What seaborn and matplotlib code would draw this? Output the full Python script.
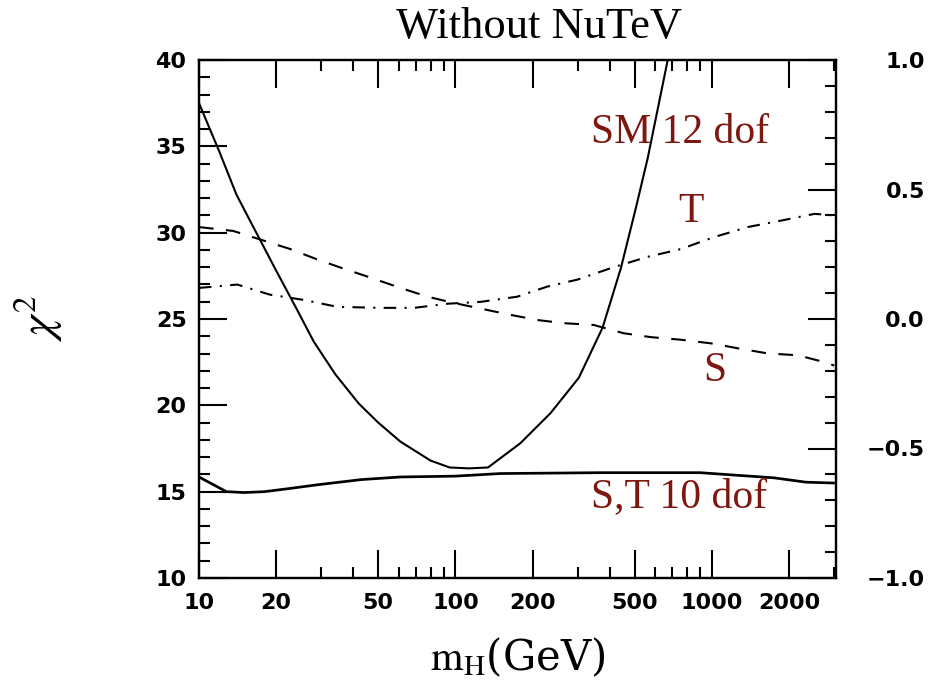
import matplotlib
matplotlib.use("Agg")
import matplotlib.pyplot as plt
import seaborn as sns
from matplotlib.ticker import FixedLocator, NullFormatter, MultipleLocator, LogLocator

# ---------------- data ----------------
sm_mh = [10, 12, 14, 17, 20, 24, 28, 34, 42, 50, 61, 80, 95, 113, 134, 179, 235, 303,
         375, 442, 505, 562, 673]
sm_chi2 = [37.5, 34.7, 32.2, 29.8, 27.8, 25.6, 23.7, 21.8, 20.1, 19.0, 17.9, 16.8,
           16.4, 16.35, 16.4, 17.8, 19.55, 21.6, 24.5, 27.95, 31.4, 34.3, 40.0]

st_mh = [10, 12.8, 15, 18, 23, 29, 43, 61, 100, 150, 370, 900, 1750, 2330, 3000]
st_chi2 = [15.85, 15.0, 14.95, 15.0, 15.2, 15.4, 15.7, 15.85, 15.9, 16.05, 16.1,
           16.1, 15.8, 15.55, 15.5]

s_mh = [10, 13.6, 22.7, 28.9, 36.5, 46.6, 61, 78, 98, 164, 209, 264, 346, 453,
        578, 757, 992, 1262, 1653, 2165, 2836, 3000]
s_val = [0.355, 0.34, 0.27, 0.23, 0.195, 0.16, 0.12, 0.086, 0.0625, 0.016, -0.004,
         -0.016, -0.023, -0.055, -0.07, -0.08, -0.094, -0.113, -0.133, -0.14, -0.17,
         -0.18]

t_mh = [10, 14.1, 18.9, 25.5, 34.6, 51, 69, 93, 125, 174, 228, 299, 414, 562, 757,
        1019, 1381, 1865, 2518, 3000]
t_val = [0.12, 0.133, 0.094, 0.074, 0.047, 0.043, 0.043, 0.059, 0.066, 0.086, 0.125,
         0.152, 0.2, 0.24, 0.27, 0.316, 0.355, 0.38, 0.406, 0.40]

x_major = [10, 20, 50, 100, 200, 500, 1000, 2000]
x_labels = ["10", "20", "50", "100", "200", "500", "1000", "2000"]
y_left_ticks = [10, 15, 20, 25, 30, 35, 40]
y_right_ticks = [-1.0, -0.5, 0.0, 0.5, 1.0]

title = "Without NuTeV"
xlabel = r"$\mathrm{m_H}$(GeV)"
ylabel = r"$\chi^2$"
label_color = "#7d1710"

# ---------------- style ----------------
sns.set_style("ticks")
plt.rcParams["font.family"] = ["DejaVu Sans"]
plt.rcParams["mathtext.fontset"] = "stix"
plt.rcParams["text.color"] = "black"
plt.rcParams["xtick.color"] = "black"
plt.rcParams["ytick.color"] = "black"
plt.rcParams["xtick.labelcolor"] = "black"
plt.rcParams["ytick.labelcolor"] = "black"

fig = plt.figure(figsize=(9.38, 6.84), dpi=100)
ax = fig.add_axes([199 / 938, 1 - 578 / 684, (836 - 199) / 938, (578 - 60) / 684])
ax2 = ax.twinx()

lw = 1.5
sns.lineplot(x=sm_mh, y=sm_chi2, ax=ax, color="black", lw=lw, sort=False)
sns.lineplot(x=st_mh, y=st_chi2, ax=ax, color="black", lw=lw * 1.3, sort=False)
sns.lineplot(x=s_mh, y=s_val, ax=ax2, color="black", lw=lw, sort=False,
             linestyle=(0, (7, 6)))
sns.lineplot(x=t_mh, y=t_val, ax=ax2, color="black", lw=lw, sort=False,
             linestyle=(0, (6, 4, 1, 4)))

ax.set_xscale("log")
ax.set_xlim(10, 3050)
ax.set_ylim(10, 40)
ax2.set_ylim(-1, 1)

# x ticks
ax.xaxis.set_major_locator(FixedLocator(x_major))
ax.set_xticklabels(x_labels)
ax.xaxis.set_minor_locator(LogLocator(base=10, subs=[2, 3, 4, 5, 6, 7, 8, 9], numticks=20))
ax.xaxis.set_minor_formatter(NullFormatter())

# left y ticks
ax.yaxis.set_major_locator(FixedLocator(y_left_ticks))
ax.yaxis.set_minor_locator(MultipleLocator(1))
ax.set_yticklabels([str(v) for v in y_left_ticks])

# right y ticks
ax2.yaxis.set_major_locator(FixedLocator(y_right_ticks))
ax2.yaxis.set_minor_locator(MultipleLocator(0.1))
ax2.set_yticklabels([f"{v:.1f}".replace("-", "\u2212") for v in y_right_ticks])

tick_font = dict(labelsize=16, labelcolor="black", color="black")
ax.tick_params(axis="x", which="both", direction="in", top=True, bottom=True, pad=11, **tick_font)
ax.tick_params(axis="y", which="both", direction="in", left=True, right=False, pad=9, **tick_font)
ax2.tick_params(axis="y", which="both", direction="in", right=True, left=False, pad=64, **tick_font)
for a in (ax, ax2):
    a.tick_params(which="major", length=20, width=1.5)
    a.tick_params(which="minor", length=8, width=1.5)
for lbl in ax.get_xticklabels() + ax.get_yticklabels() + ax2.get_yticklabels():
    lbl.set_fontweight("bold")
for lbl in ax2.get_yticklabels():
    lbl.set_horizontalalignment("right")

for a in (ax, ax2):
    for sp in a.spines.values():
        sp.set_visible(True)
        sp.set_linewidth(1.6)
        sp.set_color("black")

ax.set_xlabel("")
ax.set_ylabel("")
ax2.set_ylabel("")

# axis labels
fig.text(518 / 938, 1 - 658 / 684, xlabel, ha="center", va="center", fontsize=30,
         family="serif", color="black")
fig.text(38 / 938, 1 - 318 / 684, ylabel, ha="center", va="center", fontsize=34,
         rotation=90, color="black")

# title
fig.text(539 / 938, 1 - 27 / 684, title, ha="center", va="center", fontsize=32,
         family=["Liberation Serif", "DejaVu Serif"], color="black")

# curve annotations
ann_font = dict(color=label_color, fontsize=30, family=["Liberation Serif", "DejaVu Serif"])
ax.text(337, 35.8, "SM 12 dof", ha="left", va="center", **ann_font)
ax.text(828, 31.2, "T", ha="center", va="center", **ann_font)
ax.text(1028, 22.0, "S", ha="center", va="center", **ann_font)
ax.text(337, 14.7, "S,T 10 dof", ha="left", va="center", **ann_font)

fig.savefig("out.png", dpi=100)
